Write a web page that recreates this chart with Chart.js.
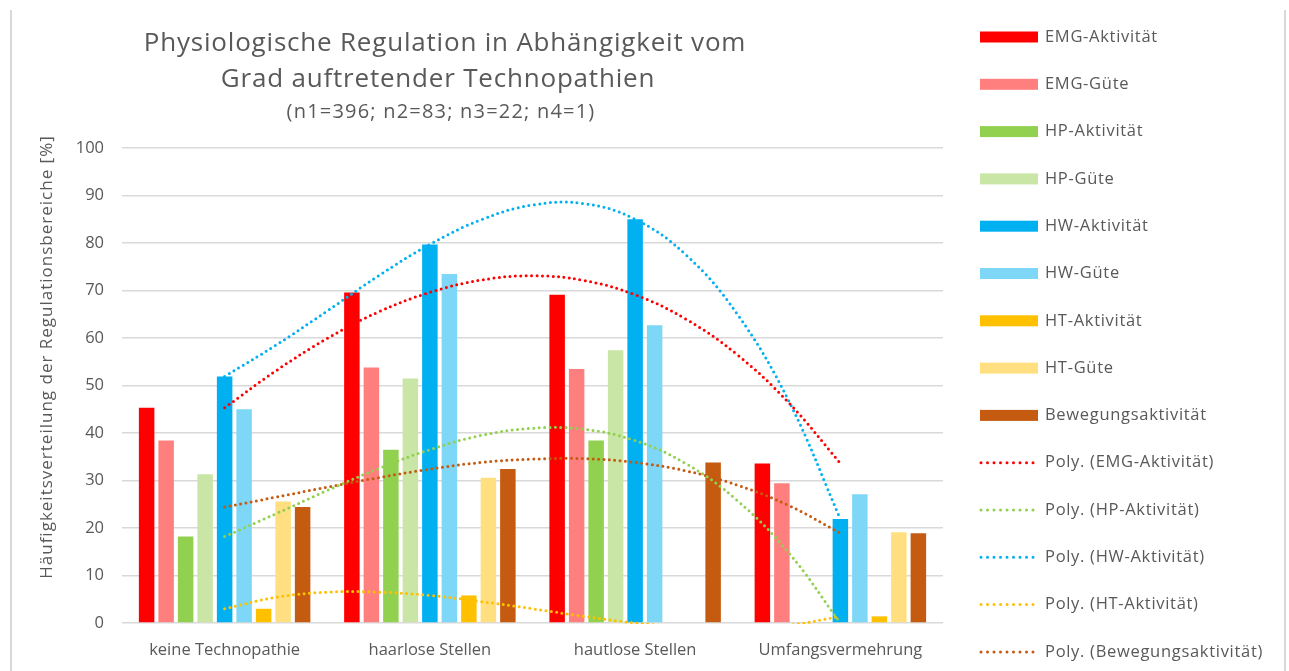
<!DOCTYPE html>
<html lang="de">
<head>
<meta charset="utf-8">
<title>Physiologische Regulation</title>
<script src="https://cdn.jsdelivr.net/npm/chart.js@4.4.0/dist/chart.umd.min.js"></script>
<style>
  html, body { margin: 0; padding: 0; background: #fff; overflow: hidden; }
  #wrap { position: relative; width: 1289px; height: 671px; }
</style>
</head>
<body>
<div id="wrap"><canvas id="chart" width="1289" height="671"></canvas></div>
<script>
// Kategorien (Grad der Technopathie)
const categories = ["keine Technopathie", "haarlose Stellen", "hautlose Stellen", "Umfangsvermehrung"];

// Balkenwerte in %
const emgAktivitaet = [45.3, 69.6, 69.1, 33.6];
const emgGuete      = [38.4, 53.8, 53.5, 29.4];
const hpAktivitaet  = [18.2, 36.5, 38.4, 0];
const hpGuete       = [31.3, 51.5, 57.4, 0];
const hwAktivitaet  = [51.9, 79.7, 85.0, 21.9];
const hwGuete       = [45.0, 73.5, 62.7, 27.1];
const htAktivitaet  = [3.0, 5.8, 0, 1.4];
const htGuete       = [25.6, 30.6, 0, 19.1];
const bewegung      = [24.4, 32.4, 33.8, 18.9];

const trendPos = [0, 0.25, 0.5, 0.75, 1, 1.25, 1.5, 1.75, 2, 2.25, 2.5, 2.75, 3];
const trendEMG = [45.3, 53.1, 59.9, 65.5, 69.6, 72.2, 73.1, 72.1, 69.1, 63.9, 56.4, 46.3, 33.6];
const trendHP  = [18.2, 23.0, 27.9, 32.5, 36.5, 39.5, 41.0, 40.8, 38.4, 33.5, 25.7, 14.7, 0];
const trendHW  = [51.9, 58.5, 65.7, 73.1, 79.7, 84.9, 88.0, 88.3, 85.0, 77.4, 64.9, 46.6, 21.9];
const trendHT  = [3.0, 5.4, 6.5, 6.5, 5.8, 4.5, 3.0, 1.4, 0, -0.9, -1.2, -0.5, 1.4];
const trendBew = [24.4, 26.5, 28.6, 30.6, 32.4, 33.8, 34.5, 34.6, 33.8, 32.0, 29.0, 24.7, 18.9];

const yTicks = [0, 10, 20, 30, 40, 50, 60, 70, 80, 90, 100];

const titleLines = ["Physiologische Regulation in Abhängigkeit vom", "Grad auftretender Technopathien"];
const subTitle = "(n1=396; n2=83; n3=22; n4=1)";
const yTitle = "Häufigkeitsverteilung der Regulationsbereiche [%]";

const textColor = "#595959";
const gridColor = "#d9d9d9";
const fontFamily = "'Open Sans', 'Noto Sans', sans-serif";

function barSet(label, data, color) {
  return {
    type: "bar",
    label: label,
    data: data,
    backgroundColor: color,
    borderWidth: 0,
    categoryPercentage: 0.855,
    barPercentage: 0.795,
    order: 1
  };
}

function trendSet(label, values, color) {
  return {
    type: "line",
    label: label,
    parsing: false,
    data: trendPos.map((x, i) => ({ x: x, y: values[i] })),
    borderColor: color,
    backgroundColor: color,
    borderWidth: 3,
    borderDash: [0, 5.4],
    borderCapStyle: "round",
    pointRadius: 0,
    tension: 0.4,
    fill: false,
    clip: { left: 5, top: 5, right: 5, bottom: 1 },
    order: 0
  };
}

const datasets = [
  barSet("EMG-Aktivität", emgAktivitaet, "#ff0000"),
  barSet("EMG-Güte", emgGuete, "#ff7f7f"),
  barSet("HP-Aktivität", hpAktivitaet, "#92d050"),
  barSet("HP-Güte", hpGuete, "#c9e6a6"),
  barSet("HW-Aktivität", hwAktivitaet, "#00b0f0"),
  barSet("HW-Güte", hwGuete, "#7fd7f7"),
  barSet("HT-Aktivität", htAktivitaet, "#ffc000"),
  barSet("HT-Güte", htGuete, "#ffdf80"),
  barSet("Bewegungsaktivität", bewegung, "#c55a11"),
  trendSet("Poly. (EMG-Aktivität)", trendEMG, "#ff0000"),
  trendSet("Poly. (HP-Aktivität)", trendHP, "#92d050"),
  trendSet("Poly. (HW-Aktivität)", trendHW, "#00b0f0"),
  trendSet("Poly. (HT-Aktivität)", trendHT, "#ffc000"),
  trendSet("Poly. (Bewegungsaktivität)", trendBew, "#c55a11")
];

// Rahmen, Titel, Achsentitel und Legende
const decorPlugin = {
  id: "decor",
  afterDraw(chart) {
    const ctx = chart.ctx;
    ctx.save();

    ctx.strokeStyle = gridColor;
    ctx.lineWidth = 2;
    ctx.beginPath();
    ctx.moveTo(11, 10); ctx.lineTo(11, 671);
    ctx.moveTo(1285, 10); ctx.lineTo(1285, 671);
    ctx.stroke();

    ctx.fillStyle = textColor;
    ctx.textAlign = "center";
    ctx.textBaseline = "alphabetic";
    ctx.font = "26px " + fontFamily;
    ctx.letterSpacing = "0.8px";
    ctx.fillText(titleLines[0], 445, 51);
    ctx.fillText(titleLines[1], 438, 87);
    ctx.font = "20px " + fontFamily;
    ctx.letterSpacing = "1.2px";
    ctx.fillText(subTitle, 441, 118);

    ctx.save();
    ctx.translate(47, 357);
    ctx.rotate(-Math.PI / 2);
    ctx.font = "17px " + fontFamily;
    ctx.letterSpacing = "1px";
    ctx.textBaseline = "middle";
    ctx.fillText(yTitle, 0, 0);
    ctx.restore();

    // Legende
    ctx.font = "16.5px " + fontFamily;
    ctx.letterSpacing = "0.7px";
    ctx.textAlign = "left";
    ctx.textBaseline = "middle";
    chart.data.datasets.forEach((ds, i) => {
      const y = 37 + i * 47.3;
      if (ds.type === "bar") {
        ctx.fillStyle = ds.backgroundColor;
        ctx.fillRect(980, y - 5.5, 58, 11);
      } else {
        ctx.strokeStyle = ds.borderColor;
        ctx.lineWidth = 3;
        ctx.lineCap = "round";
        ctx.setLineDash([0, 6.5]);
        ctx.beginPath();
        ctx.moveTo(981, y);
        ctx.lineTo(1036, y);
        ctx.stroke();
        ctx.setLineDash([]);
      }
      ctx.fillStyle = textColor;
      ctx.fillText(ds.label, 1045, y);
    });

    ctx.restore();
  }
};

const ctx = document.getElementById("chart").getContext("2d");
ctx.letterSpacing = "0.7px";

new Chart(ctx, {
  type: "bar",
  data: { labels: categories, datasets: datasets },
  plugins: [decorPlugin],
  options: {
    responsive: false,
    animation: false,
    events: [],
    layout: { padding: { left: 0, right: 1289 - 943, top: 148, bottom: 0 } },
    plugins: {
      legend: { display: false },
      tooltip: { enabled: false },
      title: { display: false }
    },
    scales: {
      x: {
        type: "category",
        offset: true,
        grid: { display: false, drawTicks: false },
        border: { display: false },
        ticks: { color: textColor, font: { family: fontFamily, size: 16.5 }, padding: 17, maxRotation: 0 },
        afterFit(scale) { scale.height = 671 - 623; }
      },
      y: {
        min: 0,
        max: 100,
        afterBuildTicks(scale) { scale.ticks = yTicks.map(v => ({ value: v })); },
        grid: { color: gridColor, lineWidth: 1.5, drawTicks: false },
        border: { display: false },
        ticks: { color: textColor, font: { family: fontFamily, size: 16.5 }, padding: 18 },
        afterFit(scale) { scale.width = 122; }
      }
    }
  }
});
</script>
</body>
</html>
